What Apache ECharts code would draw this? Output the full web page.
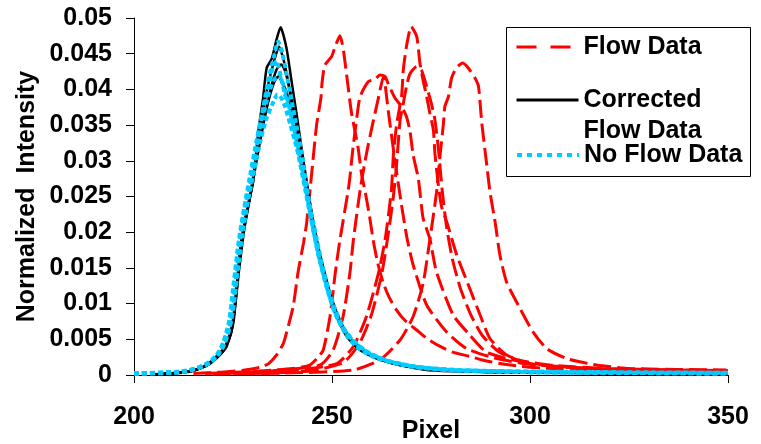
<!DOCTYPE html>
<html>
<head>
<meta charset="utf-8">
<script src="https://cdn.jsdelivr.net/npm/echarts@6/dist/echarts.min.js"></script>
<style>
html,body{margin:0;padding:0;background:#fff;}
#chart{width:761px;height:444px;}
</style>
</head>
<body>
<div id="chart"></div>
<script>
// ---- Data ----
const xTicks = [200, 250, 300, 350];
const yTicks = [0, 0.005, 0.01, 0.015, 0.02, 0.025, 0.03, 0.035, 0.04, 0.045, 0.05];

// Flow Data (red dashed) curves: [pixel, normalized intensity]
const flowA = [[215,0.0002],[222,0.0004],[228,0.0007],[232,0.0011],[234,0.0016],[236,0.0028],[237.7,0.0044],[238.5,0.0059],[240.2,0.0096],[241.4,0.0143],[242.8,0.0185],[243.6,0.0213],[244.9,0.0284],[246.1,0.035],[247.2,0.0388],[247.5,0.041],[248.2,0.0434],[249.9,0.0446],[250.8,0.046],[252.0,0.0475],[252.8,0.0458],[253.7,0.042],[254.9,0.0368],[256.6,0.0318],[257.5,0.028],[258.3,0.0259],[259.4,0.0225],[260.4,0.0189],[261.5,0.0158],[263.0,0.0128],[264.5,0.0108],[266.3,0.0091],[268.5,0.0076],[271.4,0.0063],[274,0.0051],[277.3,0.004],[280.5,0.0032],[284.8,0.0026],[288,0.0021],[292.4,0.0016],[298,0.0012],[305,0.0009],[315,0.0007],[330,0.0005],[350,0.0004]];
const flowB = [[218,0.0002],[230,0.0005],[240,0.0009],[244.4,0.0014],[246.5,0.0025],[247.8,0.0035],[249.5,0.0082],[250.8,0.0142],[252.0,0.0189],[254.1,0.0259],[254.5,0.0276],[255.3,0.0318],[256.3,0.0362],[257.1,0.039],[259.2,0.0411],[260.8,0.0414],[262.1,0.042],[263.4,0.0418],[264.2,0.0408],[265.9,0.0388],[267.6,0.0376],[268.8,0.0362],[269.7,0.0341],[270.5,0.0308],[271.8,0.0275],[273.0,0.022],[274.7,0.0191],[276.4,0.0144],[280.6,0.0084],[284.8,0.0056],[289.0,0.0032],[295.8,0.0021],[305,0.0013],[320,0.0008],[350,0.0005]];
const flowC = [[225,0.0002],[240,0.0006],[251.2,0.0016],[255.4,0.004],[258.7,0.0082],[261.7,0.0142],[263.4,0.0189],[265.0,0.0259],[265.5,0.0308],[266.3,0.035],[267.6,0.0392],[268.0,0.0427],[268.8,0.046],[270.0,0.0488],[271.4,0.0474],[272.2,0.0437],[273.0,0.0413],[273.9,0.039],[274.7,0.0367],[275.6,0.0343],[276.0,0.031],[276.9,0.0264],[277.7,0.0235],[279.0,0.0214],[281.5,0.0168],[284.8,0.0121],[287.4,0.0084],[289.9,0.0051],[294.1,0.0028],[300,0.0016],[308.4,0.0011],[320,0.0008],[350,0.0006]];
const flowD = [[222,0.0002],[235,0.0006],[247.0,0.0014],[250.3,0.0035],[252.8,0.0082],[254.5,0.0142],[255.4,0.0189],[257.1,0.0259],[258.7,0.031],[260.2,0.035],[261.6,0.0385],[263.0,0.0418],[264.2,0.037],[265.9,0.030],[267.5,0.024],[269.0,0.019],[270.5,0.0154],[273.9,0.0098],[279.0,0.006],[284.0,0.0037],[291.6,0.0023],[300,0.0015],[320,0.0008],[350,0.0005]];
const flowF = [[230,0.0002],[245,0.0006],[253,0.0018],[257,0.0045],[260,0.0085],[262.5,0.014],[264,0.019],[265.5,0.025],[266.3,0.0294],[267.2,0.0357],[268.0,0.038],[268.8,0.0404],[269.7,0.0422],[271.4,0.0432],[272.6,0.0427],[273.9,0.0404],[275.1,0.038],[276.0,0.0357],[277.0,0.031],[277.8,0.026],[279.0,0.0205],[280.5,0.016],[282.5,0.012],[285,0.0085],[288,0.0055],[292,0.0033],[297,0.0021],[305,0.0014],[320,0.0009],[350,0.0006]];
const flowE = [[220,0.0001],[240,0.0003],[255.4,0.0007],[262.1,0.0021],[267.2,0.0049],[270.5,0.0082],[273.0,0.0128],[274.7,0.0189],[276.4,0.0256],[277.3,0.0308],[278.1,0.035],[278.5,0.0376],[279.4,0.039],[280.2,0.0416],[281.4,0.043],[283.0,0.0437],[284.4,0.043],[286.1,0.0416],[287.0,0.0404],[287.8,0.0354],[289.0,0.0298],[289.9,0.0256],[291.2,0.0214],[292.4,0.0168],[294.1,0.013],[297.5,0.0093],[300.8,0.006],[304.2,0.0037],[309.3,0.0023],[316.8,0.0014],[325.3,0.0009],[349.6,0.0007]];

// Corrected Flow Data (black solid) curves
const corrK1 = [[205,0.0001],[212,0.0003],[216,0.0008],[220,0.002],[222,0.003],[223.4,0.004],[225.1,0.0073],[225.9,0.0119],[227.2,0.0189],[228.5,0.023],[230.1,0.0271],[231.4,0.0341],[232.6,0.0388],[233.5,0.043],[234.8,0.0443],[236.0,0.047],[237.0,0.0487],[238.5,0.0458],[239.8,0.0411],[241.1,0.0364],[242.3,0.0318],[243.6,0.0271],[245.3,0.0212],[247.0,0.0166],[248.7,0.0128],[250.3,0.0096],[251.2,0.0082],[253.7,0.0054],[257.1,0.0035],[261.3,0.0023],[267.2,0.0014],[273.9,0.0007],[282.3,0.0005],[300,0.0003],[350,0.0002]];
const corrK2 = [[206,0.0001],[214,0.0005],[218,0.0012],[221,0.0025],[223,0.0038],[224.6,0.006],[225.6,0.0105],[226.8,0.0175],[228.3,0.0225],[229.8,0.0265],[231.2,0.032],[232.6,0.037],[234,0.041],[235.4,0.044],[236.6,0.046],[237.6,0.0445],[238.8,0.0415],[240,0.0375],[241.4,0.033],[242.8,0.028],[244.2,0.0235],[245.8,0.019],[247.5,0.015],[249.2,0.0115],[251,0.0085],[253.5,0.0057],[257,0.0036],[261,0.0024],[267,0.0014],[275,0.0008],[285,0.0005],[310,0.0003],[350,0.0002]];
const corrK3 = [[207,0.0001],[215,0.0006],[219,0.0015],[222,0.003],[224,0.005],[225.4,0.009],[226.6,0.015],[228,0.021],[229.6,0.026],[231,0.031],[232.5,0.035],[234,0.0385],[235.4,0.041],[236.4,0.0418],[237.4,0.041],[238.6,0.0395],[240,0.036],[241.5,0.032],[243,0.0275],[244.5,0.023],[246,0.019],[247.8,0.015],[249.5,0.0115],[251.5,0.0083],[254,0.0055],[258,0.0034],[262,0.0022],[268,0.0013],[276,0.0008],[290,0.0004],[350,0.0002]];
const corrK4 = [[206,0.0001],[214,0.0005],[218,0.0013],[221,0.0027],[223.2,0.0042],[224.8,0.007],[225.8,0.0115],[227,0.018],[228.6,0.0228],[230,0.027],[231.6,0.032],[233,0.036],[234.5,0.04],[236,0.0428],[237.2,0.0435],[238.2,0.0425],[239.4,0.0398],[240.7,0.036],[242,0.032],[243.4,0.0275],[245,0.0222],[246.6,0.0178],[248.3,0.0138],[250,0.0104],[252,0.0076],[255,0.0049],[259,0.0031],[264,0.0019],[271,0.0011],[280,0.0007],[300,0.0004],[350,0.0002]];

// No Flow Data (cyan dotted) curves
const noFlowN1 = [[200,0.0002],[210,0.0003],[214,0.0006],[217,0.0011],[219.5,0.0018],[221.5,0.003],[223,0.0045],[224.5,0.0075],[225.5,0.012],[226.8,0.019],[228,0.0235],[229.5,0.027],[231,0.032],[232.5,0.037],[234,0.0415],[235.3,0.0445],[236.4,0.0467],[237.5,0.045],[238.6,0.042],[239.8,0.0385],[241,0.035],[242.4,0.031],[243.6,0.0265],[245.2,0.0212],[247,0.0163],[248.7,0.0125],[250.5,0.0092],[252,0.0072],[254,0.0053],[257,0.0036],[261,0.0024],[267,0.0015],[274,0.0009],[282,0.0006],[300,0.0004],[320,0.0003],[350,0.0002]];
const noFlowN2 = [[200,0.0002],[211,0.0004],[215,0.0008],[218,0.0014],[220.5,0.0024],[222.5,0.0045],[224,0.0075],[225.2,0.013],[226.5,0.019],[228,0.024],[229.5,0.0285],[231,0.033],[232.5,0.037],[234,0.0405],[235,0.043],[236,0.044],[237,0.042],[238,0.0395],[239.2,0.037],[240.5,0.034],[242,0.0295],[243.4,0.0255],[245,0.021],[246.8,0.0163],[248.6,0.0125],[250.4,0.0093],[252.5,0.0068],[255,0.0048],[258.5,0.0032],[263,0.0021],[270,0.0012],[280,0.0007],[300,0.0004],[350,0.0002]];
const noFlowN3 = [[200,0.0002],[212,0.0005],[216,0.001],[219,0.0018],[221.5,0.0032],[223.5,0.0055],[225,0.009],[226.2,0.0145],[227.5,0.02],[229,0.025],[230.5,0.029],[232,0.033],[233.5,0.036],[235,0.038],[236.2,0.0393],[237.2,0.0388],[238.2,0.0375],[239.5,0.035],[241,0.032],[242.5,0.0285],[244,0.0245],[245.6,0.0205],[247.3,0.016],[249,0.0122],[250.8,0.0092],[253,0.0065],[256,0.0044],[260,0.0029],[265,0.0018],[272,0.0011],[282,0.0007],[300,0.0004],[350,0.0003]];
const noFlowN4 = [[200,0.0002],[213,0.0005],[217,0.0012],[220,0.0022],[222,0.0038],[223.8,0.0065],[225,0.011],[226.3,0.0175],[227.8,0.0225],[229.2,0.0265],[230.8,0.031],[232.3,0.0355],[233.8,0.039],[235.2,0.0412],[236.6,0.042],[237.8,0.0405],[239,0.038],[240.3,0.0348],[241.7,0.031],[243.1,0.027],[244.7,0.022],[246.4,0.0172],[248.2,0.0132],[250,0.0098],[252,0.0072],[255,0.005],[259,0.0032],[264,0.002],[271,0.0012],[280,0.0007],[300,0.0005],[350,0.0003]];

const flowCurves = [flowA, flowB, flowD, flowC, flowF, flowE];
const corrCurves = [corrK1, corrK2, corrK3, corrK4];
const noFlowCurves = [noFlowN1, noFlowN2, noFlowN3, noFlowN4];

// ---- Chart ----
const FONT = '"Liberation Sans", Arial, sans-serif';
const RED = '#FF0000', BLACK = '#000000', CYAN = '#00CCFF';
const series = [];
flowCurves.forEach(c => series.push({
  type: 'line', name: 'Flow Data', data: c, symbol: 'none', smooth: 0.2,
  lineStyle: { color: RED, width: 3, type: [18, 6] }, itemStyle: { color: RED }, z: 2
}));
corrCurves.forEach(c => series.push({
  type: 'line', name: 'Corrected Flow Data', data: c, symbol: 'none', smooth: 0.2,
  lineStyle: { color: BLACK, width: 2.5, type: 'solid' }, itemStyle: { color: BLACK }, z: 3
}));
noFlowCurves.forEach(c => series.push({
  type: 'line', name: 'No Flow Data', data: c, symbol: 'none', smooth: 0.2,
  lineStyle: { color: CYAN, width: 4, type: [5, 3] }, itemStyle: { color: CYAN }, z: 4
}));

const legendText = { fontFamily: FONT, fontWeight: 'bold', fontSize: 25, color: '#000', lineHeight: 30 };
const noSymbol = { color: 'rgba(0,0,0,0)', borderWidth: 0, borderColor: 'rgba(0,0,0,0)' };
const chart = echarts.init(document.getElementById('chart'), null, { renderer: 'canvas' });
chart.setOption({
  animation: false,
  backgroundColor: '#fff',
  grid: { left: 134, right: 33, top: 18, bottom: 69, containLabel: false, outerBoundsMode: 'none' },
  xAxis: {
    type: 'value', min: xTicks[0], max: xTicks[xTicks.length - 1], interval: 50,
    name: 'Pixel', nameLocation: 'middle', nameGap: 44, nameMoveOverlap: false,
    nameTextStyle: { fontFamily: FONT, fontWeight: 'bold', fontSize: 25, color: '#000' },
    axisLine: { lineStyle: { color: '#000', width: 1 } },
    axisTick: { show: true, inside: false, length: 8, lineStyle: { color: '#000' } },
    axisLabel: { margin: 30, fontFamily: FONT, fontWeight: 'bold', fontSize: 25, color: '#000' },
    splitLine: { show: false }
  },
  yAxis: {
    type: 'value', min: yTicks[0], max: yTicks[yTicks.length - 1], interval: 0.005,
    name: 'Normalized  Intensity', nameLocation: 'middle', nameGap: 94, nameMoveOverlap: false,
    nameTextStyle: { fontFamily: FONT, fontWeight: 'bold', fontSize: 25, color: '#000' },
    axisLine: { show: true, lineStyle: { color: '#000', width: 1 } },
    axisTick: { show: true, inside: false, length: 8, lineStyle: { color: '#000' } },
    axisLabel: { margin: 22, fontFamily: FONT, fontWeight: 'bold', fontSize: 25, color: '#000',
      formatter: v => String(+v.toFixed(3)) },
    splitLine: { show: false }
  },
  graphic: [{
    type: 'rect', left: 506, top: 27, z: 3,
    shape: { width: 244, height: 149 },
    style: { fill: '#fff', stroke: '#000', lineWidth: 1 }
  }],
  legend: [
    { data: ['Flow Data'], left: 515, top: 32, padding: 0, itemWidth: 62, itemHeight: 14,
      textStyle: legendText, itemStyle: noSymbol, lineStyle: { width: 3, type: [20, 14] } },
    { data: ['Corrected Flow Data'], left: 515, top: 53.5, padding: 0, itemWidth: 62, itemHeight: 14,
      formatter: () => '\nCorrected\nFlow Data',
      textStyle: Object.assign({}, legendText, { lineHeight: 31 }),
      itemStyle: noSymbol, lineStyle: { width: 3 } },
    { data: ['No Flow Data'], left: 515, top: 140, padding: 0, itemWidth: 62, itemHeight: 14,
      textStyle: legendText, itemStyle: noSymbol, lineStyle: { width: 4, type: [5, 5] } }
  ],
  series: series
});
</script>
</body>
</html>
